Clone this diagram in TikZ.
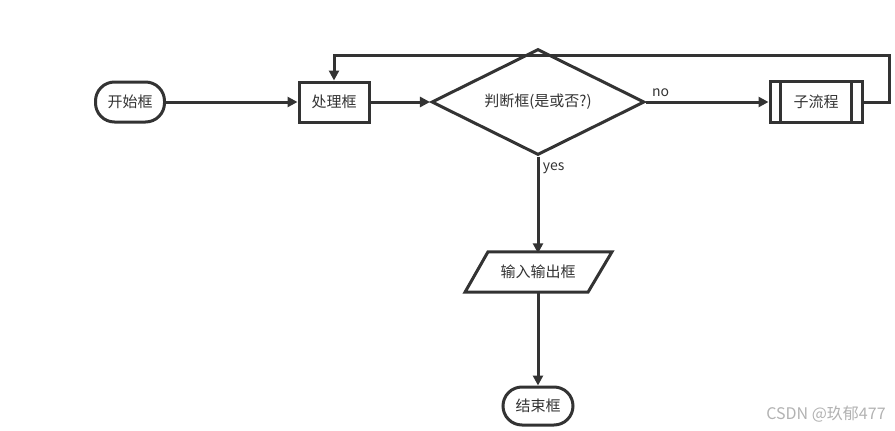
\documentclass[tikz,border=0pt]{standalone}
\usepackage{fontspec}
\setmainfont{Noto Sans CJK SC}
\usetikzlibrary{arrows.meta,shapes.geometric}

\tikzset{
	flowline/.style={draw=flowgray, line width=3pt},
	flowarrow/.style={flowline, -{Triangle[length=10pt,width=10pt]}},
	terminal/.style={flowline, rounded corners=19pt, minimum width=69pt, minimum height=40pt, inner sep=0pt},
	procbox/.style={flowline, minimum width=70pt, minimum height=40pt, inner sep=0pt},
	decision/.style={flowline, diamond, aspect=2, minimum width=213pt, minimum height=106pt, inner sep=0pt},
	subbox/.style={flowline, minimum width=92pt, minimum height=41pt, inner sep=0pt},
	iobox/.style={minimum width=124pt, minimum height=40pt, inner sep=0pt},
	lbl/.style={font=\fontsize{14}{16}\selectfont, text=flowgray}
}
\definecolor{flowgray}{HTML}{333333}

\begin{document}
\begin{tikzpicture}[x=1pt, y=-1pt, font=\fontsize{15}{17}\selectfont, text=flowgray]
\useasboundingbox (0,0) rectangle (895,431);

\pgfmathsetmacro{\rowA}{102}
\pgfmathsetmacro{\colD}{538}

% main row
\node[terminal] (start) at (130,\rowA) {开始框};
\node[procbox] (proc) at (334,\rowA) {处理框};
\node[decision] (dec) at (\colD,\rowA) {判断框(是或否?)};
\node[subbox] (sub) at (816,\rowA) {子流程};
\draw[flowline] ([xshift=12pt]sub.north west) -- ([xshift=12pt]sub.south west);
\draw[flowline] ([xshift=-12pt]sub.north east) -- ([xshift=-12pt]sub.south east);

% column below the decision
\node[iobox] (io) at (\colD,272) {输入输出框};
\draw[flowline, line join=miter] ([xshift=-50pt]io.north) -- ([xshift=74pt]io.north)
	-- ([xshift=50pt]io.south) -- ([xshift=-73pt]io.south) -- cycle;
\node[terminal, minimum width=70pt, minimum height=38pt] (stop) at (\colD,406) {结束框};

\coordinate (loopR) at (889,55);

\draw[flowarrow] (start) -- (proc);
\draw[flowarrow] (proc) -- (dec);
\draw[flowarrow] (dec.east) -- (sub.west) node[lbl, pos=0.12, above] {no};
\draw[flowarrow] (sub.east) -| (loopR) -| (proc.north);
\draw[flowarrow] (dec.south) -- ([yshift=-1.5pt]io.north) node[lbl, pos=0.12, right] {yes};
\draw[flowarrow] ([yshift=1.5pt]io.south) -- (stop.north);

\node[text=gray!60, font=\fontsize{16}{18}\selectfont] (mark) at (826,414) {CSDN @玖郁477};
\end{tikzpicture}
\end{document}
